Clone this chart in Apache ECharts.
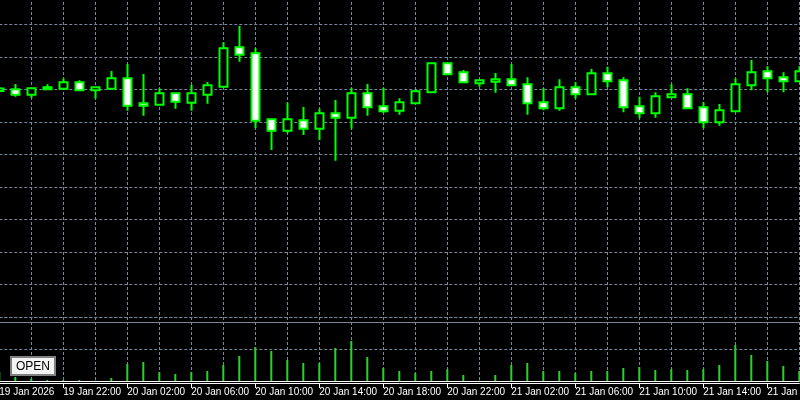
<!DOCTYPE html>
<html>
<head>
<meta charset="utf-8">
<script src="https://cdn.jsdelivr.net/npm/echarts@6/dist/echarts.min.js"></script>
<style>html,body{margin:0;padding:0;background:#000;}#chart{width:800px;height:400px;}</style>
</head>
<body>
<div id="chart"></div>
<script>
const categories = [
  "19 Jan 18:00","19 Jan 19:00","19 Jan 20:00","19 Jan 21:00","19 Jan 22:00","19 Jan 23:00",
  "20 Jan 00:00","20 Jan 01:00","20 Jan 02:00","20 Jan 03:00","20 Jan 04:00","20 Jan 05:00",
  "20 Jan 06:00","20 Jan 07:00","20 Jan 08:00","20 Jan 09:00","20 Jan 10:00","20 Jan 11:00",
  "20 Jan 12:00","20 Jan 13:00","20 Jan 14:00","20 Jan 15:00","20 Jan 16:00","20 Jan 17:00",
  "20 Jan 18:00","20 Jan 19:00","20 Jan 20:00","20 Jan 21:00","20 Jan 22:00","20 Jan 23:00",
  "21 Jan 00:00","21 Jan 01:00","21 Jan 02:00","21 Jan 03:00","21 Jan 04:00","21 Jan 05:00",
  "21 Jan 06:00","21 Jan 07:00","21 Jan 08:00","21 Jan 09:00","21 Jan 10:00","21 Jan 11:00",
  "21 Jan 12:00","21 Jan 13:00","21 Jan 14:00","21 Jan 15:00","21 Jan 16:00","21 Jan 17:00",
  "21 Jan 18:00","21 Jan 19:00","21 Jan 20:00"
];
const firstTickLabel = "19 Jan 2026";
const opens = [4669.54,4670.06,4668.40,4670.06,4670.25,4672.22,4669.76,4670.25,4673.45,4665.76,
  4665.32,4668.83,4665.94,4668.40,4670.86,4682.99,4681.14,4660.83,4657.32,4660.52,
  4657.94,4662.68,4661.32,4668.83,4664.83,4663.48,4665.76,4669.14,4678.06,4675.29,
  4671.91,4672.40,4673.14,4671.60,4666.06,4664.22,4670.68,4668.52,4674.99,4672.83,
  4664.83,4662.68,4667.60,4668.52,4664.52,4659.91,4663.29,4671.29,4675.60,4673.76,4672.52];
const closes = [4670.31,4668.40,4670.37,4670.68,4672.22,4669.76,4670.68,4673.45,4665.02,4665.02,
  4668.83,4666.25,4668.83,4671.29,4682.68,4680.71,4660.40,4657.32,4660.83,4657.94,
  4662.68,4661.32,4668.83,4664.52,4663.29,4666.06,4669.45,4678.06,4674.68,4672.22,
  4672.83,4673.14,4671.29,4665.76,4664.22,4670.68,4668.52,4674.99,4672.52,4664.52,
  4662.68,4667.91,4668.52,4664.22,4659.91,4663.60,4671.60,4675.29,4673.45,4672.52,4675.60];
const lows = [4669.23,4667.79,4667.39,4670.06,4670.25,4669.76,4667.17,4670.25,4663.48,4661.94,
  4665.32,4664.09,4663.48,4665.63,4670.86,4678.56,4658.06,4651.39,4656.52,4656.00,
  4654.46,4648.09,4657.94,4661.94,4662.77,4662.25,4665.76,4669.14,4674.46,4672.22,
  4670.86,4669.02,4671.29,4662.25,4663.60,4663.48,4667.17,4668.52,4670.68,4662.99,
  4661.14,4661.32,4667.29,4664.22,4658.06,4658.86,4663.29,4669.76,4669.14,4669.14,4672.52];
const highs = [4670.77,4671.69,4670.37,4671.60,4673.45,4672.83,4670.68,4675.69,4677.85,4674.77,
  4670.37,4668.83,4671.48,4672.31,4684.52,4689.54,4682.68,4660.83,4665.94,4664.62,
  4664.09,4666.77,4670.56,4671.69,4670.56,4667.29,4669.85,4678.37,4678.06,4676.00,
  4672.83,4675.08,4677.85,4673.76,4670.37,4673.14,4672.22,4676.31,4677.02,4673.76,
  4667.79,4669.14,4671.60,4670.37,4666.06,4665.54,4673.45,4679.08,4677.14,4675.29,4677.14];
const volumes = [281,125,72,31,31,31,9,94,531,594,
  281,219,281,313,500,781,1063,938,656,563,
  563,1031,1250,750,406,313,250,313,375,188,
  9,188,500,563,313,313,250,313,313,406,
  438,344,375,344,375,500,1125,813,625,469,313];

const candleData = categories.map((c, i) => [opens[i], closes[i], lows[i], highs[i]]);

const GRID_COLOR = '#778899';
const dashed = { show: true, lineStyle: { color: GRID_COLOR, type: [3, 2], width: 1 } };
const everyOther = (i) => i % 2 === 0;
const everyFourth = (i) => i % 4 === 0;

const chart = echarts.init(document.getElementById('chart'), null, { renderer: 'canvas' });
chart.setOption({
  backgroundColor: '#000000',
  animation: false,
  grid: [
    { left: -0.7, width: 800, top: -8, height: 325, outerBoundsMode: 'none', containLabel: false },
    { left: -0.7, width: 800, top: 317, height: 64, outerBoundsMode: 'none', containLabel: false }
  ],
  xAxis: [
    { type: 'category', gridIndex: 0, data: categories, boundaryGap: false,
      axisLine: { show: false }, axisTick: { show: false }, axisLabel: { show: false },
      splitLine: Object.assign({ interval: everyOther }, dashed) },
    { type: 'category', gridIndex: 1, data: categories, boundaryGap: false,
      axisLine: { show: true, lineStyle: { color: '#ffffff', width: 1 } },
      axisTick: { show: false }, axisLabel: { show: false },
      splitLine: Object.assign({ interval: everyOther }, dashed) },
    { type: 'category', gridIndex: 1, data: categories, boundaryGap: false, position: 'bottom', offset: 2,
      axisLine: { show: true, lineStyle: { color: '#ffffff', width: 1 } },
      axisTick: { show: true, interval: everyFourth, length: 5, lineStyle: { color: '#ffffff' } },
      axisLabel: { show: true, interval: everyFourth, align: 'left', margin: 4,
        color: '#ffffff', fontFamily: 'Liberation Sans', fontSize: 10,
        formatter: (v, i) => i === 0 ? firstTickLabel : v },
      splitLine: { show: false } }
  ],
  yAxis: [
    { type: 'value', gridIndex: 0, min: 4600, max: 4700, interval: 10, scale: true,
      axisLine: { show: false }, axisTick: { show: false }, axisLabel: { show: false },
      splitLine: dashed },
    { type: 'value', gridIndex: 1, min: 0, max: 2000, interval: 1000,
      axisLine: { show: false }, axisTick: { show: false }, axisLabel: { show: false },
      splitLine: dashed }
  ],
  series: [
    { type: 'candlestick', xAxisIndex: 0, yAxisIndex: 0, data: candleData, barWidth: 9,
      itemStyle: { color: '#000000', color0: '#ffffff', borderColor: '#00ff00', borderColor0: '#00ff00', borderWidth: 2 } },
    { type: 'bar', xAxisIndex: 1, yAxisIndex: 1, data: volumes, barWidth: 2,
      itemStyle: { color: '#32cd32' } }
  ],
  graphic: [
    { type: 'line', shape: { x1: 0, y1: 322.5, x2: 800, y2: 322.5 }, style: { stroke: GRID_COLOR, lineWidth: 1 }, z: 50 },
    { type: 'rect', shape: { x: 11, y: 357, width: 44, height: 18 }, style: { fill: '#f4f4f4', stroke: '#808080', lineWidth: 2 }, z: 60 },
    { type: 'text', x: 33, y: 366.5, style: { text: 'OPEN', fill: '#000000', font: '12px "Liberation Sans"', align: 'center', verticalAlign: 'middle' }, z: 61 }
  ]
});
</script>
</body>
</html>
